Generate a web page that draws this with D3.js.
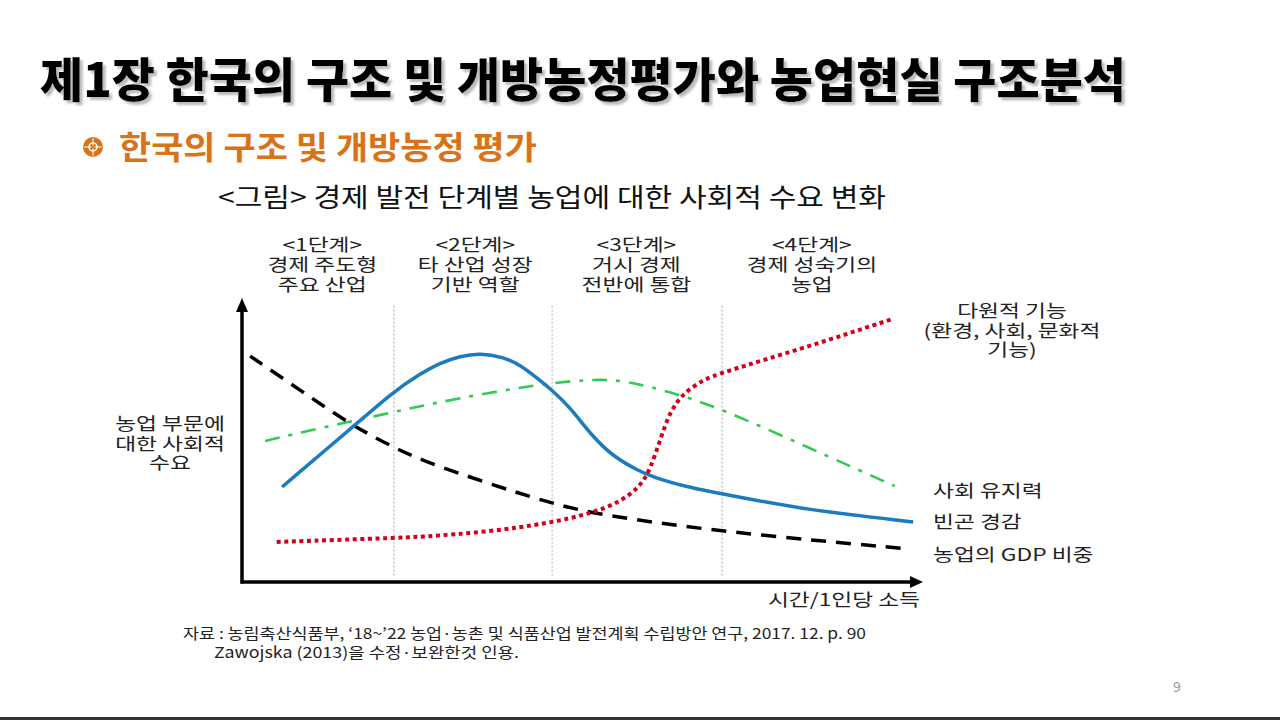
<!DOCTYPE html>
<html><head><meta charset="utf-8">
<script src="https://cdn.jsdelivr.net/npm/d3@7"></script>
<style>
html,body{margin:0;padding:0;background:#fff;}
svg{display:block;font-family:"Noto Sans CJK KR","Noto Sans",sans-serif;}
</style></head>
<body>
<svg id="c" width="1280" height="720"></svg>
<script>
// ---- data (x: time/income index 0-100, y: social demand index 0-100) ----
const stageBounds = [22.35, 45.6, 70.6];
const stageLabels = [
  ["<1단계>", "경제 주도형", "주요 산업"],
  ["<2단계>", "타 산업 성장", "기반 역할"],
  ["<3단계>", "거시 경제", "전반에 통합"],
  ["<4단계>", "경제 성숙기의", "농업"]
];
const stageCenters = [11.8, 34.3, 58.0, 83.8];

const gdpShare = [[1.2,80.1],[8.5,68.1],[16.3,55.3],[22.2,47.9],[26.2,43.3],[36.0,35.1],[45.3,28.0],[52.5,23.8],[70.7,17.7],[98.2,11.7]];
const poverty  = [[5.9,33.7],[16.3,55.0],[22.2,67.4],[26.2,73.8],[29.1,77.7],[32.1,80.1],[35.0,81.2],[38.4,79.8],[40.9,77.0],[43.4,72.3],[45.6,68.0],[48.2,62.1],[51.6,51.4],[54.6,44.5],[58.1,39.7],[60.4,37.2],[65.4,33.7],[70.7,31.2],[83.1,25.5],[98.7,21.3]];
const social   = [[3.4,50.0],[11.5,54.6],[20.3,59.2],[27.6,63.1],[36.0,67.0],[45.3,70.6],[52.2,72.0],[56.6,71.3],[62.9,67.4],[69.9,62.1],[83.1,47.9],[96.0,34.0]];
const multi    = [[5.1,14.2],[22.2,15.6],[26.2,16.0],[36.0,17.7],[45.3,20.9],[51.6,24.5],[55.6,28.4],[58.5,33.7],[60.0,39.7],[61.5,50.4],[62.9,60.3],[64.9,67.0],[67.8,71.6],[70.3,74.1],[83.1,83.3],[95.7,93.3]];

const seriesLabels = ["사회 유지력", "빈곤 경감", "농업의 GDP 비중"];
const multiLabel = ["다원적 기능", "(환경, 사회, 문화적", "기능)"];
const yLabel = ["농업 부문에", "대한 사회적", "수요"];
const xLabel = "시간/1인당 소득";

const svg = d3.select("#c");
const x = d3.scaleLinear().domain([0,100]).range([242,922]);
const y = d3.scaleLinear().domain([0,100]).range([582,300]);
const SX = 1.3; // horizontal stretch of label font

function label(px, py, lines, anchor, lh){
  const t = svg.append("text").attr("transform",`translate(${px},${py}) scale(${SX},1)`)
    .attr("text-anchor",anchor||"start").attr("font-size",17.5).attr("fill","#222");
  [].concat(lines).forEach((s,j)=>{
    t.append("tspan").attr("x",0).attr("dy", j===0 ? 0 : (lh||20)).text(s);
  });
}

// shadow filter for the title
const defs = svg.append("defs");
const f = defs.append("filter").attr("id","sh").attr("x","-5%").attr("y","-20%").attr("width","110%").attr("height","150%");
f.append("feDropShadow").attr("dx",3).attr("dy",3).attr("stdDeviation",0.8).attr("flood-color","#aaa").attr("flood-opacity",0.8);

// bottom border
svg.append("rect").attr("x",0).attr("y",717).attr("width",1280).attr("height",3).attr("fill","#333");

// title
const title = "제1장 한국의 구조 및 개방농정평가와 농업현실 구조분석";
svg.append("text").attr("x",40).attr("y",97).attr("font-size",47).attr("font-weight",900)
  .attr("fill","#000").attr("filter","url(#sh)")
  .attr("textLength",1086).attr("lengthAdjust","spacingAndGlyphs").text(title);

// bullet
const b = svg.append("g").attr("transform","translate(93,147)");
b.append("circle").attr("r",10).attr("fill","#d9731a");
b.append("circle").attr("r",4).attr("fill","none").attr("stroke","#fff").attr("stroke-width",1.5);
b.append("line").attr("x1",-9).attr("x2",9).attr("stroke","#fff").attr("stroke-width",1);
b.append("line").attr("y1",-9).attr("y2",9).attr("stroke","#fff").attr("stroke-width",1);
b.append("circle").attr("r",1.6).attr("fill","#d9731a");

svg.append("text").attr("x",119).attr("y",159).attr("font-size",32).attr("font-weight",700)
  .attr("fill","#d9731a").attr("textLength",418).attr("lengthAdjust","spacingAndGlyphs").text("한국의 구조 및 개방농정 평가");

svg.append("text").attr("x",218).attr("y",207).attr("font-size",26)
  .attr("fill","#111").attr("textLength",668).attr("lengthAdjust","spacingAndGlyphs").text("<그림> 경제 발전 단계별 농업에 대한 사회적 수요 변화");

// stage labels
stageLabels.forEach((lines,i)=> label(x(stageCenters[i]), 251, lines, "middle", 20));

// grid lines
svg.selectAll("line.grid").data(stageBounds).enter().append("line")
  .attr("x1",d=>x(d)).attr("x2",d=>x(d)).attr("y1",y(98)).attr("y2",y(1.5))
  .attr("stroke","#aaa").attr("stroke-width",1).attr("stroke-dasharray","2,2");

// axes
svg.append("line").attr("x1",x(0)).attr("x2",x(0)).attr("y1",y(0)+1.5).attr("y2",y(100)+10).attr("stroke","#000").attr("stroke-width",3.5);
svg.append("path").attr("d",`M${x(0)-6},${y(100)+12} L${x(0)},${y(100)-2} L${x(0)+6},${y(100)+12} Z`).attr("fill","#000");
svg.append("line").attr("x1",x(0)-1.5).attr("x2",x(100)-10).attr("y1",y(0)).attr("y2",y(0)).attr("stroke","#000").attr("stroke-width",3.5);
svg.append("path").attr("d",`M${x(100)-12},${y(0)-6} L${x(100)+1},${y(0)} L${x(100)-12},${y(0)+6} Z`).attr("fill","#000");

const line = d3.line().x(d=>x(d[0])).y(d=>y(d[1])).curve(d3.curveBasis);

svg.append("path").datum(social).attr("d",line).attr("fill","none").attr("stroke","#2fcb55")
  .attr("stroke-width",2.6).attr("stroke-dasharray","15,9,4,9");
svg.append("path").datum(gdpShare).attr("d",line).attr("fill","none").attr("stroke","#000")
  .attr("stroke-width",3.5).attr("stroke-dasharray","15,10");
svg.append("path").datum(poverty).attr("d",line).attr("fill","none").attr("stroke","#1b7bbd")
  .attr("stroke-width",3.5);
svg.append("path").datum(multi).attr("d",line).attr("fill","none").attr("stroke","#d0021b")
  .attr("stroke-width",4).attr("stroke-dasharray","4,3.6");

// right labels
label(1012, 317, multiLabel, "middle", 19.5);
const rightY = [497, 528, 561];
seriesLabels.forEach((t,j)=> label(933, rightY[j], t, "start"));
label(170, 430, yLabel, "middle", 19.5);
label(920, 606, xLabel, "end");

// source
svg.append("text").attr("x",183).attr("y",639).attr("font-size",15).attr("fill","#222")
  .attr("textLength",683).attr("lengthAdjust","spacingAndGlyphs")
  .text("자료 : 농림축산식품부, ‘18~’22 농업·농촌 및 식품산업 발전계획 수립방안 연구, 2017. 12. p. 90");
svg.append("text").attr("x",214).attr("y",658).attr("font-size",15).attr("fill","#222")
  .attr("textLength",305).attr("lengthAdjust","spacingAndGlyphs")
  .text("Zawojska (2013)을 수정·보완한것 인용.");

svg.append("text").attr("x",1177).attr("y",692).attr("text-anchor","middle").attr("font-size",14).attr("fill","#999").text("9");
</script>
</body></html>
